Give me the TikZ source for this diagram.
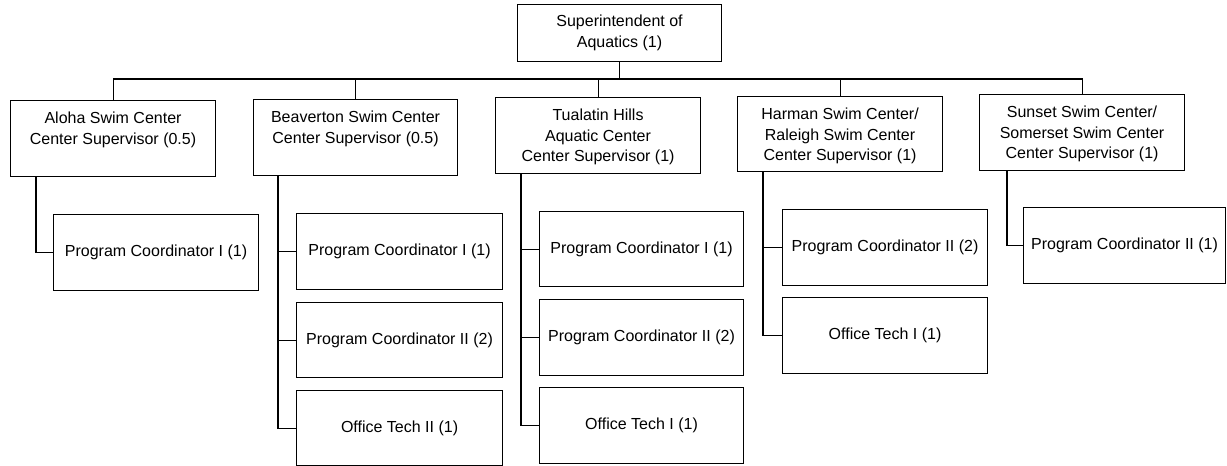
\documentclass[tikz,border=0pt]{standalone}
\usepackage{fontspec}
\setmainfont{Liberation Sans}
\begin{document}
\begin{tikzpicture}[x=1pt,y=-1pt,
  box/.style={draw, line width=1.1pt, anchor=north west, inner sep=0pt, minimum width=205pt, minimum height=76pt},
  txt/.style={align=center, inner sep=0pt, font={\fontsize{16pt}{20.5pt}\selectfont}},
  conn/.style={line width=1.1pt}]
\useasboundingbox (0,0) rectangle (1227,466);
% top
\node[box, minimum width=204pt, minimum height=57pt] (top) at (517,4) {};
\node[txt] (toptxt) at (top.center) {Superintendent of\\Aquatics (1)};
% supervisors
\node[box] (alo) at (10,100) {};
\node[txt, anchor=north, yshift=-12pt] (alotxt) at (alo.north) {Aloha Swim Center\\Center Supervisor (0.5)};
\node[box, minimum width=204pt] (bea) at (253,99) {};
\node[txt, anchor=north, yshift=-12pt] (beatxt) at (bea.north) {Beaverton Swim Center\\Center Supervisor (0.5)};
\node[box] (tua) at (495,97) {};
\node[txt, anchor=north, yshift=-12pt] (tuatxt) at (tua.north) {Tualatin Hills\\Aquatic Center\\Center Supervisor (1)};
\node[box, minimum height=75pt] (har) at (737,96) {};
\node[txt, anchor=north, yshift=-12pt] (hartxt) at (har.north) {Harman Swim Center/\\Raleigh Swim Center\\Center Supervisor (1)};
\node[box] (sun) at (979,94) {};
\node[txt, anchor=north, yshift=-12pt] (suntxt) at (sun.north) {Sunset Swim Center/\\Somerset Swim Center\\Center Supervisor (1)};
% children
\node[box] (aloA) at (53,214) {};
\node[txt] (aloAt) at (aloA.center) {Program Coordinator I (1)};
\node[box, minimum width=206pt] (beaA) at (296,213) {};
\node[txt] (beaAt) at (beaA.center) {Program Coordinator I (1)};
\node[box, minimum width=206pt, minimum height=75pt] (beaB) at (296,302) {};
\node[txt] (beaBt) at (beaB.center) {Program Coordinator II (2)};
\node[box, minimum width=206pt, minimum height=75pt] (beaC) at (296,390) {};
\node[txt] (beaCt) at (beaC.center) {Office Tech II (1)};
\node[box, minimum width=204pt, minimum height=75pt] (tuaA) at (539,211) {};
\node[txt] (tuaAt) at (tuaA.center) {Program Coordinator I (1)};
\node[box, minimum width=204pt] (tuaB) at (539,299) {};
\node[txt] (tuaBt) at (tuaB.center) {Program Coordinator II (2)};
\node[box, minimum width=204pt] (tuaC) at (539,387) {};
\node[txt] (tuaCt) at (tuaC.center) {Office Tech I (1)};
\node[box] (harA) at (782,209) {};
\node[txt] (harAt) at (harA.center) {Program Coordinator II (2)};
\node[box] (harB) at (782,297) {};
\node[txt] (harBt) at (harB.center) {Office Tech I (1)};
\node[box, minimum width=202pt] (sunA) at (1023,207) {};
\node[txt] (sunAt) at (sunA.center) {Program Coordinator II (1)};
% bus
\coordinate (bus) at (0,79);
\draw[conn] (top.south) -- (top.south |- bus);
\draw[conn] (alo.north) -- (alo.north |- bus) -- (sun.north |- bus) -- (sun.north);
\draw[conn] (bea.north) -- (bea.north |- bus);
\draw[conn] (tua.north) -- (tua.north |- bus);
\draw[conn] (har.north) -- (har.north |- bus);
% branches
\coordinate (aloV) at ([xshift=26pt]alo.south west);
\draw[conn] (aloV) |- (aloA.west);
\coordinate (beaV) at ([xshift=25pt]bea.south west);
\draw[conn] (beaV) |- (beaA.west);
\draw[conn] (beaV) |- (beaB.west);
\draw[conn] (beaV) |- (beaC.west);
\coordinate (tuaV) at ([xshift=26pt]tua.south west);
\draw[conn] (tuaV) |- (tuaA.west);
\draw[conn] (tuaV) |- (tuaB.west);
\draw[conn] (tuaV) |- (tuaC.west);
\coordinate (harV) at ([xshift=26pt]har.south west);
\draw[conn] (harV) |- (harA.west);
\draw[conn] (harV) |- (harB.west);
\coordinate (sunV) at ([xshift=28pt]sun.south west);
\draw[conn] (sunV) |- (sunA.west);
\end{tikzpicture}
\end{document}
